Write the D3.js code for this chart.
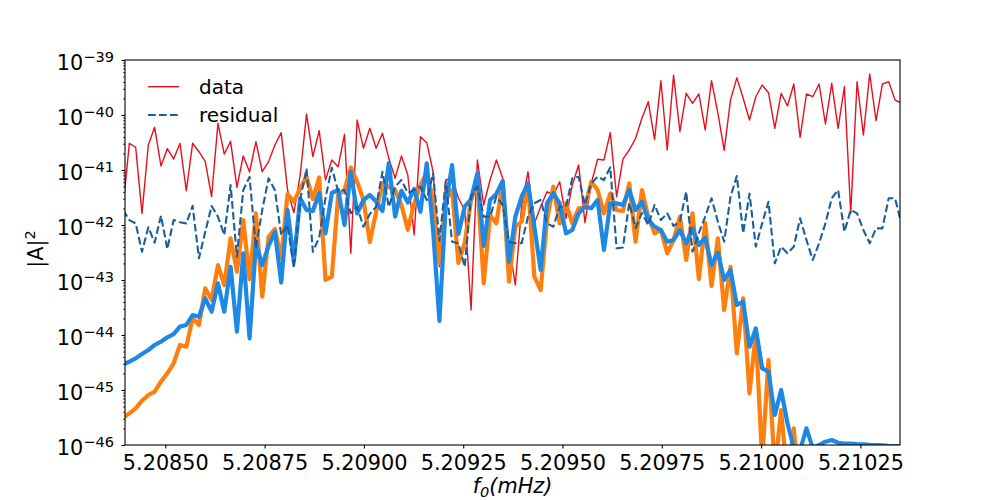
<!DOCTYPE html>
<html>
<head>
<meta charset="utf-8">
<script src="https://cdn.jsdelivr.net/npm/d3@7"></script>
<style>
  body { margin: 0; background: #fff; }
  svg { display: block; font-family: "DejaVu Sans", sans-serif; }
</style>
</head>
<body>
<div id="chart"></div>
<script>
// ── Data ──────────────────────────────────────────────────────────────────────
// Frequency bins are uniform: f = F_START + i * F_STEP (mHz)
const F_START = 5.2083935;
const F_STEP = 1.5932e-5;

// |A|^2 of the data
const dataAmp = [
  2.04e-42, 3.06e-41, 2.59e-41, 1.63e-42, 2.85e-41, 5.97e-41, 1.18e-41, 2.44e-41, 1.58e-41, 3.06e-41,
  4.2e-42, 3.06e-41, 2.15e-41, 1.42e-41, 3.27e-42, 7.06e-41, 1.95e-41, 3.32e-41, 4.84e-42, 1.8e-41,
  9.2e-42, 3.27e-41, 9.3e-42, 1.42e-41, 2.85e-41, 4.77e-41, 4.33e-42, 1.67e-42, 8.1e-42, 1.04e-40,
  1.75e-41, 5.18e-41, 6.58e-42, 1.52e-41, 1.15e-41, 4.46e-41, 3.06e-43, 8.1e-41, 2.48e-41, 5.73e-41,
  2.48e-41, 4.65e-41, 1.63e-41, 7.06e-42, 1.8e-41, 8.1e-42, 6.58e-43, 4.03e-41, 3.14e-41, 9.3e-42,
  1.75e-43, 6.58e-42, 7.16e-42, 3.1e-42, 1.87e-42, 2.85e-44, 1.52e-41, 2.31e-42, 6.58e-42, 1.52e-41,
  7.06e-42, 4.33e-43, 8.1e-44, 2.31e-42, 9.3e-42, 1.07e-42, 2.15e-42, 4.03e-42, 3.51e-42, 6.13e-42,
  1.32e-42, 5.34e-42, 1.23e-41, 1.1e-42, 5.73e-42, 1.57e-41, 1.52e-41, 4.77e-41, 3.27e-42, 1.58e-41,
  2.31e-41, 3.77e-41, 8.71e-41, 1.75e-40, 3.61e-41, 4.2e-40, 2.31e-41, 5.34e-40, 4.97e-41, 2.48e-40,
  1.63e-40, 2.41e-40, 5.34e-41, 4.2e-40, 1.09e-40, 2.28e-41, 1.87e-40, 4.74e-40, 2.01e-40, 8.1e-41,
  2.15e-40, 3.51e-40, 2.54e-40, 5.73e-41, 2.48e-40, 1.46e-40, 3.66e-40, 3.93e-41, 2.41e-40, 2.15e-40,
  3.66e-40, 6.86e-41, 3.77e-40, 5.73e-41, 3.27e-40, 1.63e-42, 4.03e-40, 4.33e-41, 5.56e-40, 7.87e-41,
  3.66e-40, 4.03e-40, 1.87e-40, 1.65e-40
];

// |A|^2 of the residual
const residualAmp = [
  1.87e-42, 1.23e-42, 1.07e-42, 3.27e-43, 9.1e-43, 4.77e-43, 1.48e-42, 3.66e-43, 1.23e-42, 1.12e-42,
  1.07e-42, 2.22e-42, 2.48e-43, 7.55e-43, 2.22e-42, 1.42e-42, 6.58e-43, 5.34e-42, 2.65e-43, 4.33e-42,
  7.46e-42, 3.82e-43, 1.87e-42, 7.07e-42, 4.33e-42, 6.58e-43, 1.0e-42, 1.63e-43, 2.85e-42, 1.07e-41,
  3.27e-43, 5.93e-43, 3.1e-42, 1.1e-41, 4.07e-42, 4.33e-42, 1.63e-42, 2.15e-42, 9.3e-43, 1.58e-42,
  2.15e-42, 9.3e-42, 2.13e-42, 5.0e-42, 6.58e-42, 3.82e-42, 4.33e-42, 4.97e-42, 2.85e-42, 8.7e-42,
  5.12e-43, 6.12e-42, 4.97e-43, 4.65e-43, 1.74e-43, 3.37e-42, 4.97e-42, 1.42e-42, 1.42e-42, 3.27e-42,
  2.31e-42, 4.97e-43, 4.65e-43, 4.65e-43, 1.42e-42, 2.48e-42, 2.85e-42, 1.07e-42, 9.3e-43, 2.15e-42,
  2.15e-42, 7.07e-42, 7.55e-42, 2.31e-42, 5.73e-42, 7.55e-42, 6.58e-42, 1.12e-41, 3.77e-43, 3.9e-43,
  2.51e-42, 8.82e-43, 1.65e-42, 1.0e-42, 2.31e-42, 1.23e-42, 1.63e-42, 9.6e-43, 1.16e-42, 4.03e-42,
  3.27e-43, 7.16e-43, 1.42e-42, 3.06e-42, 1.15e-42, 4.97e-43, 3.27e-42, 7.78e-42, 7.07e-43, 3.71e-42,
  4.03e-43, 1.07e-42, 2.65e-42, 2.01e-43, 4.03e-43, 3.06e-43, 4.03e-43, 1.32e-42, 5.34e-43, 2.31e-43,
  4.65e-43, 1.07e-42, 3.06e-42, 4.33e-42, 7.55e-43, 1.87e-42, 1.63e-42, 8.11e-43, 4.65e-43, 8.7e-43,
  8.7e-43, 3.06e-42, 3.06e-42, 1.07e-42
];

// |A|^2 of the first model (orange)
const modelAmpA = [
  3.1e-46, 3.77e-46, 4.65e-46, 6.39e-46, 8.11e-46, 9.3e-46, 1.42e-45, 2.01e-45, 3.06e-45, 6.58e-45,
  6.12e-45, 2.01e-44, 1.52e-44, 7.07e-44, 4.33e-44, 1.87e-43, 8.11e-44, 5.73e-43, 1.42e-43, 1.23e-42,
  1.04e-43, 1.63e-42, 4.97e-44, 6.12e-43, 8.46e-43, 2.51e-43, 3.66e-42, 2.67e-42, 4.65e-42, 7.55e-42,
  2.97e-42, 7.3e-42, 1.0e-43, 1.15e-43, 3.51e-42, 4.33e-42, 1.11e-41, 6.12e-42, 2.85e-42, 4.91e-43,
  1.74e-42, 5.8e-42, 4.91e-42, 4.33e-42, 2.31e-42, 8.2e-43, 2.41e-42, 5.34e-42, 9.0e-42, 2.85e-42,
  2.04e-43, 2.85e-42, 4.33e-42, 2.04e-43, 4.71e-43, 2.85e-42, 5.8e-42, 8.7e-44, 1.52e-42, 1.07e-42,
  6.12e-42, 9.3e-44, 9.3e-43, 1.15e-42, 5.73e-42, 1.15e-43, 6.58e-44, 1.23e-42, 4.97e-42, 1.07e-42,
  2.48e-42, 1.07e-42, 2.01e-42, 2.15e-42, 6.12e-42, 4.33e-42, 1.63e-42, 3.77e-42, 1.87e-42, 1.8e-42,
  5.73e-42, 4.97e-43, 4.33e-42, 1.42e-42, 7.07e-43, 8.11e-43, 3.06e-43, 5.34e-43, 1.42e-42, 2.31e-43,
  1.63e-42, 1.04e-43, 1.09e-42, 7.78e-44, 5.73e-43, 2.85e-44, 1.74e-43, 4.65e-45, 4.65e-44, 8.7e-46,
  1.07e-44, 5.34e-47, 3.51e-45, 3.51e-47, 4.33e-46, 2.31e-47, 2.01e-46, 1.0e-47
];

// |A|^2 of the second model (blue)
const modelAmpB = [
  2.94e-45, 3.27e-45, 3.77e-45, 4.51e-45, 5.34e-45, 6.58e-45, 7.55e-45, 9.1e-45, 1.04e-44, 1.42e-44,
  1.52e-44, 2.31e-44, 2.15e-44, 4.65e-44, 2.65e-44, 8.7e-44, 2.65e-44, 1.74e-43, 1.15e-44, 3.06e-43,
  8.7e-45, 4.65e-43, 1.87e-43, 4.15e-43, 7.46e-43, 9.0e-44, 1.87e-42, 2.22e-43, 3.06e-42, 1.87e-42,
  1.8e-42, 3.82e-42, 7.07e-43, 3.82e-42, 4.33e-42, 1.0e-42, 9.3e-42, 1.63e-42, 2.85e-42, 3.51e-42,
  2.67e-42, 1.8e-42, 1.34e-41, 1.42e-42, 4.18e-42, 2.56e-42, 4.51e-42, 1.74e-42, 1.32e-41, 8.11e-43,
  1.8e-44, 2.31e-42, 1.23e-41, 6.86e-43, 2.15e-42, 2.97e-42, 8.7e-42, 4.15e-43, 2.85e-42, 3.66e-42,
  6.31e-42, 2.15e-43, 1.42e-42, 3.27e-42, 5.73e-42, 9.3e-43, 1.52e-43, 2.48e-42, 3.77e-42, 2.48e-42,
  7.07e-43, 8.11e-43, 1.63e-42, 2.15e-42, 2.01e-42, 2.85e-42, 3.51e-43, 2.48e-42, 2.48e-42, 2.31e-42,
  4.33e-42, 1.87e-42, 2.65e-42, 1.23e-42, 9.3e-43, 8.11e-43, 4.97e-43, 5.34e-43, 8.11e-43, 4.65e-43,
  8.7e-43, 4.33e-43, 5.8e-43, 1.87e-43, 3.16e-43, 1.0e-43, 1.52e-43, 3.51e-44, 4.03e-44, 6.12e-45,
  1.32e-44, 2.48e-45, 2.15e-45, 3.51e-46, 1.0e-45, 2.48e-46, 8.82e-47, 8.11e-47, 2.01e-46, 8.82e-47,
  1.0e-46, 1.15e-46, 1.23e-46, 1.1e-46, 1.06e-46, 1.06e-46, 1.04e-46, 1.03e-46, 1.01e-46, 1.0e-46,
  9.9e-47, 9.7e-47, 9.6e-47, 9.5e-47
];

const xTicks = [5.2085, 5.20875, 5.209, 5.20925, 5.2095, 5.20975, 5.21, 5.21025];
const yTicks = [1e-46, 1e-45, 1e-44, 1e-43, 1e-42, 1e-41, 1e-40, 1e-39];
const yTickExp = ['−46', '−45', '−44', '−43', '−42', '−41', '−40', '−39'];

const X_DOMAIN = [5.2083985, 5.2103497];
const Y_DOMAIN = [1e-46, 1e-39];

// ── Layout ────────────────────────────────────────────────────────────────────

const width = 1000;
const height = 500;
const margin = { top: 60, right: 100, bottom: 55, left: 125 };
const innerW = width - margin.left - margin.right;
const innerH = height - margin.top - margin.bottom;
const FONT = 20.8;

const svg = d3
  .select('#chart')
  .append('svg')
  .attr('width', width)
  .attr('height', height)
  .attr('viewBox', `0 0 ${width} ${height}`);

svg.append('rect').attr('width', width).attr('height', height).attr('fill', '#fff');

const g = svg.append('g').attr('transform', `translate(${margin.left},${margin.top})`);

const x = d3.scaleLinear().domain(X_DOMAIN).range([0, innerW]);
const y = d3.scaleLog().domain(Y_DOMAIN).range([innerH, 0]);

svg
  .append('defs')
  .append('clipPath')
  .attr('id', 'plot-clip')
  .append('rect')
  .attr('width', innerW)
  .attr('height', innerH);

// ── Lines ─────────────────────────────────────────────────────────────────────

const freqOf = (i) => F_START + i * F_STEP;

const lineGen = d3
  .line()
  .x((d, i) => x(freqOf(i)))
  .y((d) => y(d));

const plot = g.append('g').attr('clip-path', 'url(#plot-clip)');

const series = [
  { values: dataAmp, color: '#e5101b', width: 1.4, dash: null },
  { values: modelAmpA, color: '#ff7f0e', width: 4.2, dash: null },
  { values: modelAmpB, color: '#1e88e5', width: 4.2, dash: null },
  { values: residualAmp, color: '#1b5e9b', width: 2.1, dash: '7.7,3.3' },
];

series.forEach((s) => {
  plot
    .append('path')
    .datum(s.values)
    .attr('fill', 'none')
    .attr('stroke', s.color)
    .attr('stroke-width', s.width)
    .attr('stroke-linejoin', 'round')
    .attr('stroke-dasharray', s.dash)
    .attr('d', lineGen);
});

// ── Axes ──────────────────────────────────────────────────────────────────────

const xAxis = g
  .append('g')
  .attr('transform', `translate(0,${innerH})`)
  .call(d3.axisBottom(x).tickValues(xTicks).tickSize(3.5).tickPadding(6.7).tickFormat(d3.format('.5f')));

xAxis.select('.domain').remove();
xAxis.selectAll('text').attr('font-size', FONT).attr('fill', '#000').attr('font-family', 'DejaVu Sans');

const yMinor = [];
yTicks.slice(0, -1).forEach((v) => d3.range(2, 10).forEach((m) => yMinor.push(v * m)));

const yMinorAxis = g.append('g').call(d3.axisLeft(y).tickValues(yMinor).tickSize(2).tickFormat(() => ''));
yMinorAxis.select('.domain').remove();

const yAxis = g.append('g').call(d3.axisLeft(y).tickValues(yTicks).tickSize(3.5).tickFormat(() => ''));
yAxis.select('.domain').remove();

g.selectAll('.tick line').attr('stroke', '#000').attr('stroke-width', 1.1);
yMinorAxis.selectAll('.tick line').attr('stroke-width', 0.8);

yAxis.selectAll('.tick').each(function (d, i) {
  const t = d3
    .select(this)
    .append('text')
    .attr('x', -11)
    .attr('y', 9.3)
    .attr('text-anchor', 'end')
    .attr('fill', '#000')
    .attr('font-size', FONT)
    .attr('font-family', 'DejaVu Sans');
  t.append('tspan').text('10');
  t.append('tspan').attr('dy', -7.6).attr('font-size', FONT * 0.7).text(yTickExp[i]);
});

// Frame (all four spines)
g.append('rect')
  .attr('width', innerW)
  .attr('height', innerH)
  .attr('fill', 'none')
  .attr('stroke', '#000')
  .attr('stroke-width', 1.1);

// Axis labels
const xl = svg
  .append('text')
  .attr('x', margin.left + innerW / 2)
  .attr('y', 493)
  .attr('text-anchor', 'middle')
  .attr('font-size', FONT)
  .attr('font-style', 'italic')
  .attr('fill', '#000');
xl.append('tspan').text('f');
xl.append('tspan').attr('dy', 3.5).attr('font-size', FONT * 0.7).text('0');
xl.append('tspan').attr('dy', -3.5).text('(mHz)');

const yl = svg
  .append('text')
  .attr('transform', 'translate(43,249) rotate(-90)')
  .attr('text-anchor', 'middle')
  .attr('font-size', FONT)
  .attr('fill', '#000');
yl.append('tspan').text('|A|');
yl.append('tspan').attr('dy', -8).attr('font-size', FONT * 0.7).text('2');

// ── Legend ────────────────────────────────────────────────────────────────────

const legendItems = [
  { label: 'data', color: '#e5101b', width: 1.4, dash: null, y: 86.7 },
  { label: 'residual', color: '#1b5e9b', width: 2.1, dash: '7.7,3.3', y: 115 },
];

const legend = svg.append('g');
legendItems.forEach((it) => {
  legend
    .append('line')
    .attr('x1', 148)
    .attr('x2', 179)
    .attr('y1', it.y)
    .attr('y2', it.y)
    .attr('stroke', it.color)
    .attr('stroke-width', it.width)
    .attr('stroke-dasharray', it.dash);
  legend
    .append('text')
    .attr('x', 199)
    .attr('y', it.y + 7)
    .attr('font-size', 20)
    .attr('fill', '#000')
    .text(it.label);
});
</script>
</body>
</html>
